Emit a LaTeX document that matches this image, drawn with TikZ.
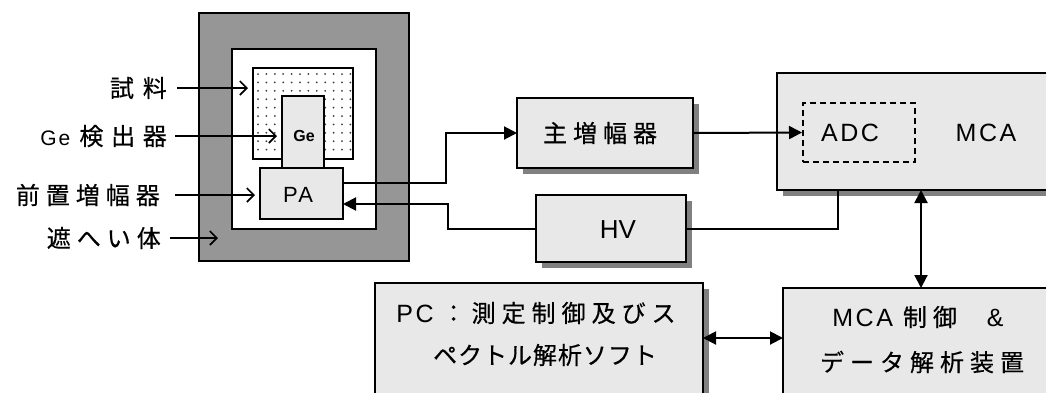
\documentclass[tikz,border=0pt]{standalone}
\usepackage{fontspec}
\setmainfont{Liberation Sans}
\newfontfamily\lat[LetterSpace=10]{Liberation Sans}
\newfontfamily\jp[LetterSpace=25,FakeBold=0.4]{Noto Sans CJK JP}
\newfontfamily\jpwide[LetterSpace=37,FakeBold=0.4]{Noto Sans CJK JP}
\newfontfamily\jpmid[LetterSpace=32,FakeBold=0.4]{Noto Sans CJK JP}
\newfontfamily\jpnarrow[LetterSpace=4,FakeBold=0.4]{Noto Sans CJK JP}
\usetikzlibrary{arrows.meta,shadows}
\definecolor{shieldgray}{RGB}{150,150,150}
\definecolor{boxfill}{RGB}{232,232,232}
\definecolor{shadowgray}{RGB}{128,128,128}
\definecolor{dotgray}{RGB}{60,60,60}
\begin{document}
\begin{tikzpicture}[x=1pt,y=-1pt,
  frame/.style={draw, line width=2pt, inner sep=0pt, outer sep=0pt},
  gbox/.style={frame, fill=boxfill},
  sbox/.style={gbox, drop shadow={shadow xshift=6pt, shadow yshift=-6pt, fill=shadowgray, opacity=1}},
  conn/.style={line width=2pt, -{Triangle[length=13pt,width=13pt]}},
  dconn/.style={line width=2pt, {Triangle[length=13pt,width=13pt]}-{Triangle[length=13pt,width=13pt]}},
  wire/.style={line width=2pt},
  larrow/.style={line width=1.6pt, -{Straight Barb[length=7pt,width=14pt]}},
  jpt/.style={inner sep=0pt, font=\fontsize{24}{28}\selectfont\jp},
  lbl/.style={jpt, anchor=east},
  lat/.style={inner sep=0pt, font=\fontsize{25}{30}\selectfont\lat}
]
\useasboundingbox (0,0) rectangle (1046,392);
\fill[white] (0,0) rectangle (1046,392);

% shield assembly
\node[frame, fill=shieldgray, minimum width=210pt, minimum height=248pt] (shield) at (304,137) {};
\node[frame, fill=white, minimum width=144pt, minimum height=180pt] (inner) at (304,139) {};
\node[frame, fill=white, minimum width=100pt, minimum height=91pt] (sample) at (303,113.5) {};
\foreach \i in {0,...,11}
  \foreach \j in {0,...,9}
    \fill[dotgray] (258+\i*8.4, 74+\j*8.4) circle (1.0);
\node[gbox, minimum width=42pt, minimum height=72pt] (ge) at (303,132) {};
\node[inner sep=0pt, font=\fontsize{16}{19}\selectfont\bfseries] (getxt) at (304,136) {Ge};
\node[gbox, minimum width=83pt, minimum height=51pt] (pa) at (301.5,193.5) {};
\node[inner sep=0pt, font=\fontsize{22}{26}\selectfont\lat] (patxt) at (298,195) {PA};

% left labels
\node[lbl, font=\fontsize{24}{28}\selectfont\jpwide] (l1) at (167,88) {試料};
\node[inner sep=0pt, anchor=east] (l2) at (167,136) {\fontsize{21}{25}\selectfont\lat Ge\hspace{9pt}\fontsize{24}{28}\selectfont\jpmid 検出器};
\node[lbl] (l3) at (160,195) {前置増幅器};
\node[lbl] (l4) at (161,238) {遮へい体};
\draw[larrow] ([xshift=10pt]l1.east) -- ([xshift=-5pt]sample.west |- l1.east);
\draw[larrow] ([xshift=8pt]l2.east) -- ([xshift=-5pt]ge.west |- l2.east);
\draw[larrow] ([xshift=15pt]l3.east) -- ([xshift=-5pt]pa.west |- l3.east);
\draw[larrow] ([xshift=9pt]l4.east) -- ([xshift=19pt]shield.west |- l4.east);

% main amp, HV, MCA
\node[sbox, minimum width=176pt, minimum height=70pt] (main) at (605,133) {};
\node[jpt] (maintxt) at (600,133) {主増幅器};
\node[sbox, minimum width=150pt, minimum height=67pt] (hv) at (611,228.5) {};
\node[inner sep=0pt, font=\fontsize{26}{30}\selectfont] (hvtxt) at (618,230) {HV};
\node[sbox, minimum width=273pt, minimum height=117pt] (mca) at (913.5,131.5) {};
\node[draw, line width=2pt, dash pattern=on 6pt off 4pt, inner sep=0pt, minimum width=112pt, minimum height=59pt] (adc) at (859,132.5) {};
\node[lat] (adctxt) at (850,133) {ADC};
\node[lat] (mcatxt) at (986,133) {MCA};

% bottom boxes
\node[sbox, minimum width=328pt, minimum height=117pt] (pc) at (539,341.5) {};
\node[inner sep=0pt] (pc1) at (536,313) {\fontsize{25}{30}\selectfont\lat PC\hspace{8pt}\fontsize{24}{28}\selectfont\jp ：測定制御及びス};
\node[inner sep=0pt, font=\fontsize{24}{28}\selectfont\jpnarrow] (pc2) at (545,355) {ペクトル解析ソフト};
\node[sbox, minimum width=267pt, minimum height=112pt] (ctrl) at (916.5,344) {};
\node[inner sep=0pt] (c1) at (918,317) {\fontsize{25}{30}\selectfont\lat MCA\hspace{10pt}\fontsize{24}{28}\selectfont\jp 制御　\fontsize{25}{30}\selectfont\rmfamily \&};
\node[jpt] (c2) at (922,362) {データ解析装置};

% connectors
\draw[conn] ([yshift=10.5pt]pa.east) -- ++(103,0) |- (main.west);
\draw[conn] (hv.west) -- ++(-88,0) |- ([yshift=-10.5pt]pa.east);
\draw[wire] ([xshift=-75.5pt]mca.south) |- (hv.east);
\draw[conn] (main.east) -- (adc.west);
\draw[dconn] (mca.south -| 921,0) -- (ctrl.north -| 921,0);
\draw[dconn] (pc.east |- 0,338) -- (ctrl.west |- 0,338);
\end{tikzpicture}
\end{document}
